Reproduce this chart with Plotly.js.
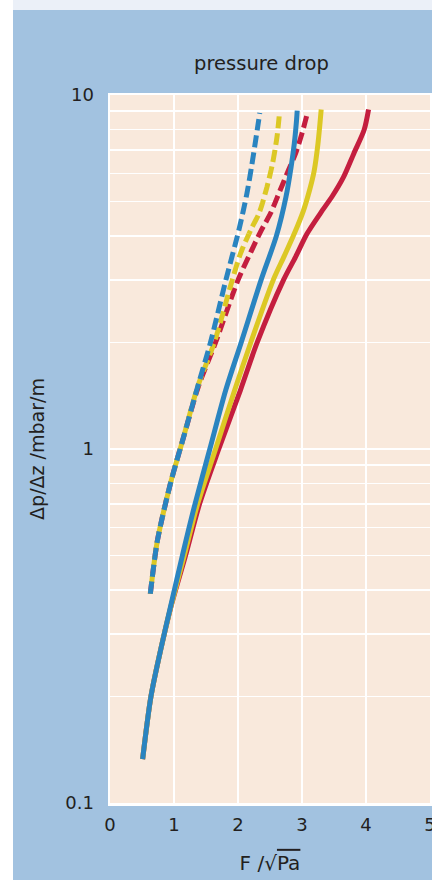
<!DOCTYPE html>
<html>
<head>
<meta charset="utf-8">
<script src="https://cdn.plot.ly/plotly-3.0.1.min.js"></script>
<style>
  html, body { margin: 0; padding: 0; background: #ffffff; width: 432px; height: 880px; overflow: hidden; }
  #strip { position: absolute; left: 13px; top: 0; width: 419px; height: 10px; background: #ebf0f8; }
  #chart { position: absolute; left: 13px; top: 10px; width: 419px; height: 870px; }
</style>
</head>
<body>
<div id="strip"></div>
<div id="chart"></div>
<script>
// ---- data ----
const xTicks = [0, 1, 2, 3, 4, 5];
const yTickVals = [0.1,0.2,0.3,0.4,0.5,0.6,0.7,0.8,0.9,1,2,3,4,5,6,7,8,9,10];
const yTickText = ["0.1","","","","","","","","","1","","","","","","","","","10"];

// dashed curves
const dashBlueX   = [0.63, 0.74, 0.945, 1.13, 1.37, 1.57, 1.81, 2.02, 2.14, 2.22, 2.30, 2.34];
const dashBlueY   = [0.39, 0.55, 0.80, 1.05, 1.50, 2.00, 3.00, 4.20, 5.28, 6.41, 7.96, 8.90];
const dashYellowX = [0.63, 0.74, 0.945, 1.13, 1.37, 1.63, 1.91, 2.04, 2.20, 2.33, 2.44, 2.54, 2.61, 2.65];
const dashYellowY = [0.39, 0.55, 0.80, 1.05, 1.50, 2.00, 3.00, 3.57, 4.16, 4.64, 5.39, 6.41, 7.63, 8.97];
const dashRedX    = [0.63, 0.74, 0.945, 1.13, 1.38, 1.65, 2.00, 2.20, 2.35, 2.51, 2.66, 2.79, 2.90, 3.00, 3.09];
const dashRedY    = [0.39, 0.55, 0.80, 1.05, 1.50, 2.00, 3.00, 3.60, 4.10, 4.64, 5.39, 6.14, 6.84, 7.79, 8.97];

// solid curves
const solidBlueX   = [0.51, 0.64, 0.79, 0.945, 1.14, 1.32, 1.56, 1.81, 2.05, 2.36, 2.60, 2.75, 2.83, 2.88, 2.915, 2.925];
const solidBlueY   = [0.133, 0.20, 0.27, 0.358, 0.508, 0.69, 1.00, 1.47, 2.00, 3.00, 4.00, 5.16, 6.27, 7.30, 8.50, 9.03];
const solidYellowX = [0.51, 0.64, 0.79, 0.95, 1.16, 1.37, 1.65, 1.95, 2.20, 2.55, 2.72, 2.88, 3.02, 3.12, 3.19, 3.25, 3.30];
const solidYellowY = [0.133, 0.20, 0.27, 0.358, 0.50, 0.70, 1.00, 1.47, 2.00, 3.00, 3.50, 4.06, 4.70, 5.40, 6.10, 7.30, 9.10];
const solidRedX    = [0.51, 0.64, 0.79, 0.955, 1.18, 1.40, 1.70, 2.04, 2.30, 2.71, 2.90, 3.08, 3.29, 3.48, 3.65, 3.81, 3.97, 4.04];
const solidRedY    = [0.133, 0.20, 0.27, 0.36, 0.50, 0.70, 1.00, 1.47, 2.00, 3.00, 3.49, 4.06, 4.64, 5.20, 5.87, 6.84, 7.96, 9.10];

const BLUE = '#2a84c0', YELLOW = '#dcc824', RED = '#c41e3f';

function tr(x, y, color, dash) {
  return {
    x: x, y: y, type: 'scatter', mode: 'lines',
    line: { color: color, width: 5, dash: dash, shape: 'spline', smoothing: 0.8 },
    hoverinfo: 'skip', showlegend: false
  };
}

const data = [
  tr(dashRedX, dashRedY, RED, '12px,5px'),
  tr(dashYellowX, dashYellowY, YELLOW, '3.5px,5px,8.5px,0px'),
  tr(dashBlueX, dashBlueY, BLUE, '12px,5px'),
  tr(solidRedX, solidRedY, RED, 'solid'),
  tr(solidYellowX, solidYellowY, YELLOW, 'solid'),
  tr(solidBlueX, solidBlueY, BLUE, 'solid')
];

const FONT = 'DejaVu Sans, Liberation Sans, Arial, sans-serif';
const TXT = '#231f20';

const layout = {
  width: 419, height: 870,
  margin: { l: 96.5, r: 2, t: 85, b: 77, pad: 0 },
  paper_bgcolor: '#a2c2e0',
  plot_bgcolor: '#f9e9dc',
  font: { family: FONT, color: TXT, size: 18 },
  title: {
    text: 'pressure drop',
    font: { family: FONT, size: 19.5, color: TXT },
    xref: 'container', yref: 'container',
    x: 0.593, xanchor: 'center',
    y: 0.939, yanchor: 'middle'
  },
  xaxis: {
    range: [0, 5],
    tickvals: xTicks,
    ticktext: xTicks.map(String),
    showgrid: true, gridcolor: '#ffffff', gridwidth: 1.6,
    zeroline: false,
    showline: true, linecolor: '#ffffff', linewidth: 2.5, mirror: true,
    ticks: '', ticklabelstandoff: 4, ticklabeloverflow: 'allow',
    tickfont: { family: FONT, size: 18, color: TXT },
    title: { text: 'F /√<span style="text-decoration:overline">Pa</span>', font: { family: FONT, size: 20, color: TXT }, standoff: 22 },
    fixedrange: true
  },
  yaxis: {
    type: 'log',
    range: [-1, 1],
    tickvals: yTickVals,
    ticktext: yTickText,
    showgrid: true, gridcolor: '#ffffff', gridwidth: 1.6,
    zeroline: false,
    showline: true, linecolor: '#ffffff', linewidth: 2.5, mirror: true,
    ticks: '', ticklabelstandoff: 10, ticklabeloverflow: 'allow',
    tickfont: { family: FONT, size: 18, color: TXT },
    title: { text: 'Δp/Δz /mbar/m', font: { family: FONT, size: 19, color: TXT }, standoff: 16 },
    fixedrange: true
  },
  showlegend: false
};

Plotly.newPlot('chart', data, layout, { staticPlot: true, displayModeBar: false });
</script>
</body>
</html>
